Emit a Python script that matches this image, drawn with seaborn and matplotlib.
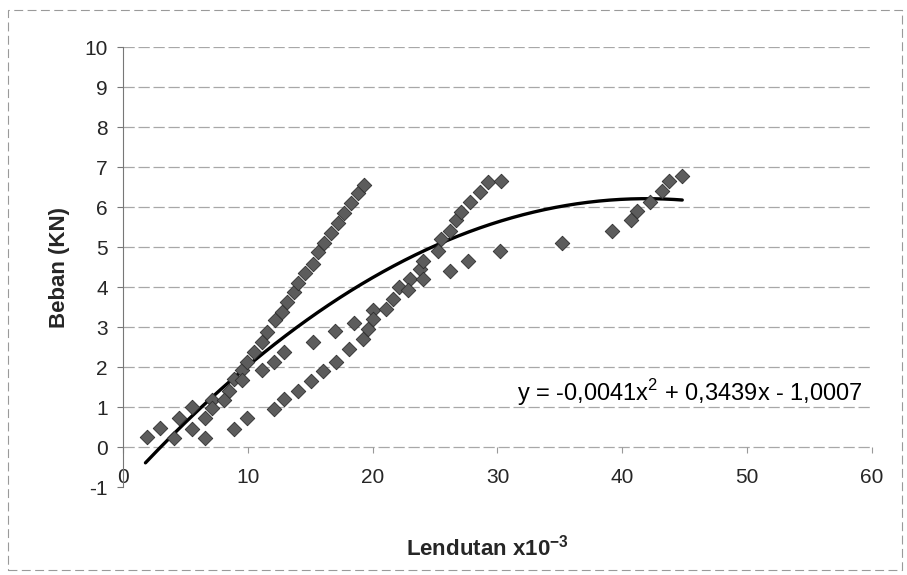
import numpy as np
import pandas as pd
import matplotlib
matplotlib.use("Agg")
import matplotlib.pyplot as plt
import seaborn as sns
from matplotlib.patches import Rectangle


# load-deflection readings, three test runs
x_run1 = [1.9, 3.0, 4.5, 5.5, 7.1, 8.5, 8.9, 9.5, 9.9, 10.5, 11.1, 11.5, 12.2, 12.7,
          13.1, 13.7, 14.0, 14.6, 15.2, 15.6, 16.1, 16.7, 17.2, 17.7, 18.3, 18.8, 19.3]
y_run1 = [0.25, 0.48, 0.73, 1.00, 1.18, 1.40, 1.70, 1.93, 2.13, 2.38, 2.63, 2.88, 3.18, 3.38,
          3.63, 3.88, 4.10, 4.35, 4.58, 4.88, 5.10, 5.35, 5.60, 5.85, 6.10, 6.35, 6.55]

x_run2 = [4.1, 5.5, 6.6, 7.1, 8.1, 9.5, 11.1, 12.1, 12.9, 15.2, 17.0, 18.5, 20.0, 21.6,
          22.1, 23.0, 23.8, 24.0, 25.2, 25.5, 26.2, 26.7, 27.1, 27.8, 28.6, 29.2, 30.3]
y_run2 = [0.22, 0.45, 0.72, 0.98, 1.18, 1.68, 1.93, 2.13, 2.38, 2.63, 2.90, 3.10, 3.42, 3.69,
          3.99, 4.19, 4.44, 4.64, 4.89, 5.19, 5.39, 5.69, 5.89, 6.14, 6.39, 6.63, 6.66]

x_run3 = [6.6, 8.9, 9.9, 12.1, 12.9, 14.0, 15.1, 16.0, 17.1, 18.1, 19.2, 19.6, 20.0, 21.1,
          22.8, 24.0, 26.2, 27.6, 30.2, 35.2, 39.2, 40.7, 41.2, 42.2, 43.2, 43.7, 44.8]
y_run3 = [0.22, 0.45, 0.73, 0.95, 1.20, 1.40, 1.65, 1.90, 2.13, 2.46, 2.71, 2.94, 3.19, 3.44,
          3.92, 4.19, 4.39, 4.64, 4.89, 5.11, 5.39, 5.67, 5.91, 6.14, 6.41, 6.66, 6.78]

# polynomial trendline as printed on the chart
trend_coef = [-0.0041, 0.3439, -1.0007]
trend_label = "y = -0,0041x$^{2}$ + 0,3439x - 1,0007"

x_ticks = [0, 10, 20, 30, 40, 50, 60]
y_ticks = list(range(-1, 11))

points = pd.DataFrame({
    "lendutan": x_run1 + x_run2 + x_run3,
    "beban": y_run1 + y_run2 + y_run3,
})

sns.set_theme(style="white")
plt.rcParams["font.family"] = ["Liberation Sans", "DejaVu Sans"]
plt.rcParams["mathtext.fontset"] = "custom"
plt.rcParams["mathtext.rm"] = "Liberation Sans"
plt.rcParams["mathtext.bf"] = "Liberation Sans:bold"

fig = plt.figure(figsize=(9.07, 5.75), dpi=100)
ax = fig.add_axes([0.1356, 0.153, 0.8258, 0.765])

# bottom axis sits on y = 0 (set before ticks, it resets them)
ax.spines["bottom"].set_position(("data", 0))
ax.spines["bottom"].set_visible(False)
for side in ["top", "right"]:
    ax.spines[side].set_visible(False)
ax.spines["left"].set_color("#777777")
ax.spines["left"].set_linewidth(0.8)
ax.spines["left"].set_linestyle((0, (2, 1)))

# horizontal gridlines
for yv in range(0, 11):
    ax.axhline(yv, color="#a8a8a8", lw=0.9, ls=(0, (9, 3)), zorder=0)

trend_x = np.linspace(points["lendutan"].min() - 0.1, points["lendutan"].max(), 200)
trend = pd.DataFrame({"lendutan": trend_x, "beban": np.polyval(trend_coef, trend_x)})
sns.lineplot(data=trend, x="lendutan", y="beban", color="black", lw=2.4, ax=ax, zorder=3)

sns.scatterplot(data=points, x="lendutan", y="beban", marker="D", s=55,
                color="#5c5c5c", edgecolor="#2e2e2e", linewidth=0.6, ax=ax, zorder=4)

ax.text(59.3, 1.37, trend_label, ha="right", va="center", fontsize=17, color="black")

ax.set_xlim(0, 60)
ax.set_ylim(-1, 10)
ax.set_xticks(x_ticks)
ax.set_yticks(y_ticks)
ax.set_xticklabels([str(t) for t in x_ticks])
ax.set_yticklabels([str(t) for t in y_ticks])
ax.tick_params(axis="y", length=4, width=0.8, color="#777777", pad=7, left=True, labelsize=15)
ax.tick_params(axis="x", length=4, width=0.8, color="#999999", pad=11, bottom=True,
               direction="out", labelsize=15)

ax.set_xlabel("")
ax.set_ylabel("")
fig.text(0.537, 0.048, r"Lendutan x10$^{\mathbf{-3}}$", ha="center", va="center",
         fontsize=16, fontweight="bold")
fig.text(0.066, 0.535, "Beban (KN)", ha="center", va="center", rotation=90,
         fontsize=16, fontweight="bold")

# outer chart border, faint like the scan
fig.patches.append(Rectangle((0.009, 0.008), 0.985, 0.975, transform=fig.transFigure,
                             fill=False, ec="#9a9a9a", lw=0.8, ls=(0, (8, 4))))

fig.savefig("out.png", dpi=100)
plt.close(fig)
